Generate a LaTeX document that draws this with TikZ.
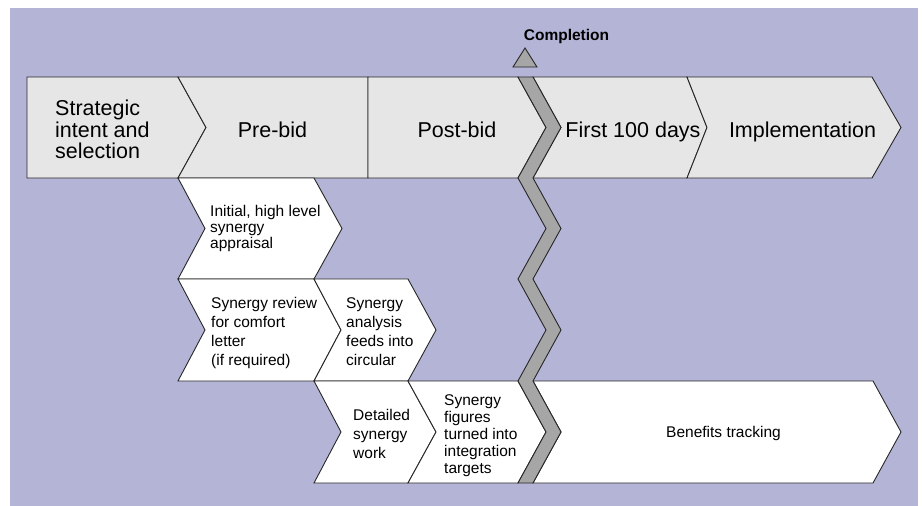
\documentclass[tikz,border=0pt]{standalone}
\usepackage{fontspec}
\setmainfont{Liberation Sans}
\definecolor{bgpurple}{HTML}{B4B4D7}
\definecolor{bandgray}{HTML}{E6E6E6}
\definecolor{zzgray}{HTML}{A6A6A6}
\begin{document}
\begin{tikzpicture}[x=1pt,y=-1pt,
  outline/.style={draw=black!85,line width=0.9pt,line join=miter},
  phase/.style={outline,fill=bandgray},
  task/.style={outline,fill=white},
  bigtxt/.style={font=\fontsize{21.5}{21.5}\selectfont,inner sep=0pt},
  smalltxt/.style={font=\fontsize{15.5}{#1}\selectfont,inner sep=0pt,align=left,anchor=west},
  smalltxt/.default=16,
  marktxt/.style={font=\bfseries\fontsize{15.5}{17}\selectfont,inner sep=0pt}
]
\useasboundingbox (0,0) rectangle (922,506);
\fill[bgpurple] (10,8) rectangle (918,506);

% phase band
\path[phase] (27,77) -- (178,77) -- (206,127.5) -- (178,178) -- (27,178) -- cycle;
\path[phase] (178,77) -- (368,77) -- (368,178) -- (178,178) -- (206,127.5) -- cycle;
\path[phase] (368,77) -- (518,77) -- (546,127.5) -- (518,178) -- (368,178) -- cycle;
\path[phase] (533,77) -- (687,77) -- (707,127.5) -- (687,178) -- (533,178) -- (561,127.5) -- cycle;
\path[phase] (687,77) -- (872,77) -- (901,127.5) -- (872,178) -- (687,178) -- (707,127.5) -- cycle;

% task chevrons
\path[task] (178,178) -- (314,178) -- (342,228.5) -- (314,279) -- (178,279) -- (205,228.5) -- cycle;
\path[task] (178,279) -- (314,279) -- (341,330) -- (314,381) -- (178,381) -- (205,330) -- cycle;
\path[task] (314,279) -- (408,279) -- (436,330) -- (408,381) -- (314,381) -- (341,330) -- cycle;
\path[task] (314,381) -- (408,381) -- (436,432) -- (408,483) -- (314,483) -- (341,432) -- cycle;
\path[task] (408,381) -- (518,381) -- (546,432) -- (518,483) -- (408,483) -- (436,432) -- cycle;
\path[task] (533,381) -- (873,381) -- (901,432) -- (873,483) -- (533,483) -- (561,432) -- cycle;

% completion zigzag
\path[outline,fill=zzgray] (518,77) -- (546,127.5) -- (518,178) -- (546,228.5) -- (518,279)
  -- (546,330) -- (518,381) -- (546,432) -- (518,483) -- (533,483) -- (561,432) -- (533,381)
  -- (561,330) -- (533,279) -- (561,228.5) -- (533,178) -- (561,127.5) -- (533,77) -- cycle;
\path[outline,fill=zzgray] (525,48) -- (537,67) -- (513,67) -- cycle;
\node[marktxt,anchor=base] (completion) at (566.5,40) {Completion};

% phase labels
\node[bigtxt,align=left,anchor=west] (strategic) at (55,129.5) {Strategic\\intent and\\selection};
\node[bigtxt,anchor=base] (prebid) at (272.5,137.5) {Pre-bid};
\node[bigtxt,anchor=base] (postbid) at (457,137.5) {Post-bid};
\node[bigtxt,anchor=base] (first) at (633,137.5) {First 100 days};
\node[bigtxt,anchor=base] (impl) at (802.5,137.5) {Implementation};

% task labels
\node[smalltxt=16] (initial) at (210,228.6) {Initial, high level\\synergy\\appraisal};
\node[smalltxt=19] (review) at (211,333) {Synergy review\\for comfort\\letter\\(if required)};
\node[smalltxt=19] (analysis) at (346,331.5) {Synergy\\analysis\\feeds into\\circular};
\node[smalltxt=19] (detailed) at (353,434) {Detailed\\synergy\\work};
\node[smalltxt=17] (figures) at (444,435.5) {Synergy\\figures\\turned into\\integration\\targets};
\node[font=\fontsize{15.5}{17}\selectfont,inner sep=0pt,anchor=base] (benefits) at (723.5,437) {Benefits tracking};
\end{tikzpicture}
\end{document}
